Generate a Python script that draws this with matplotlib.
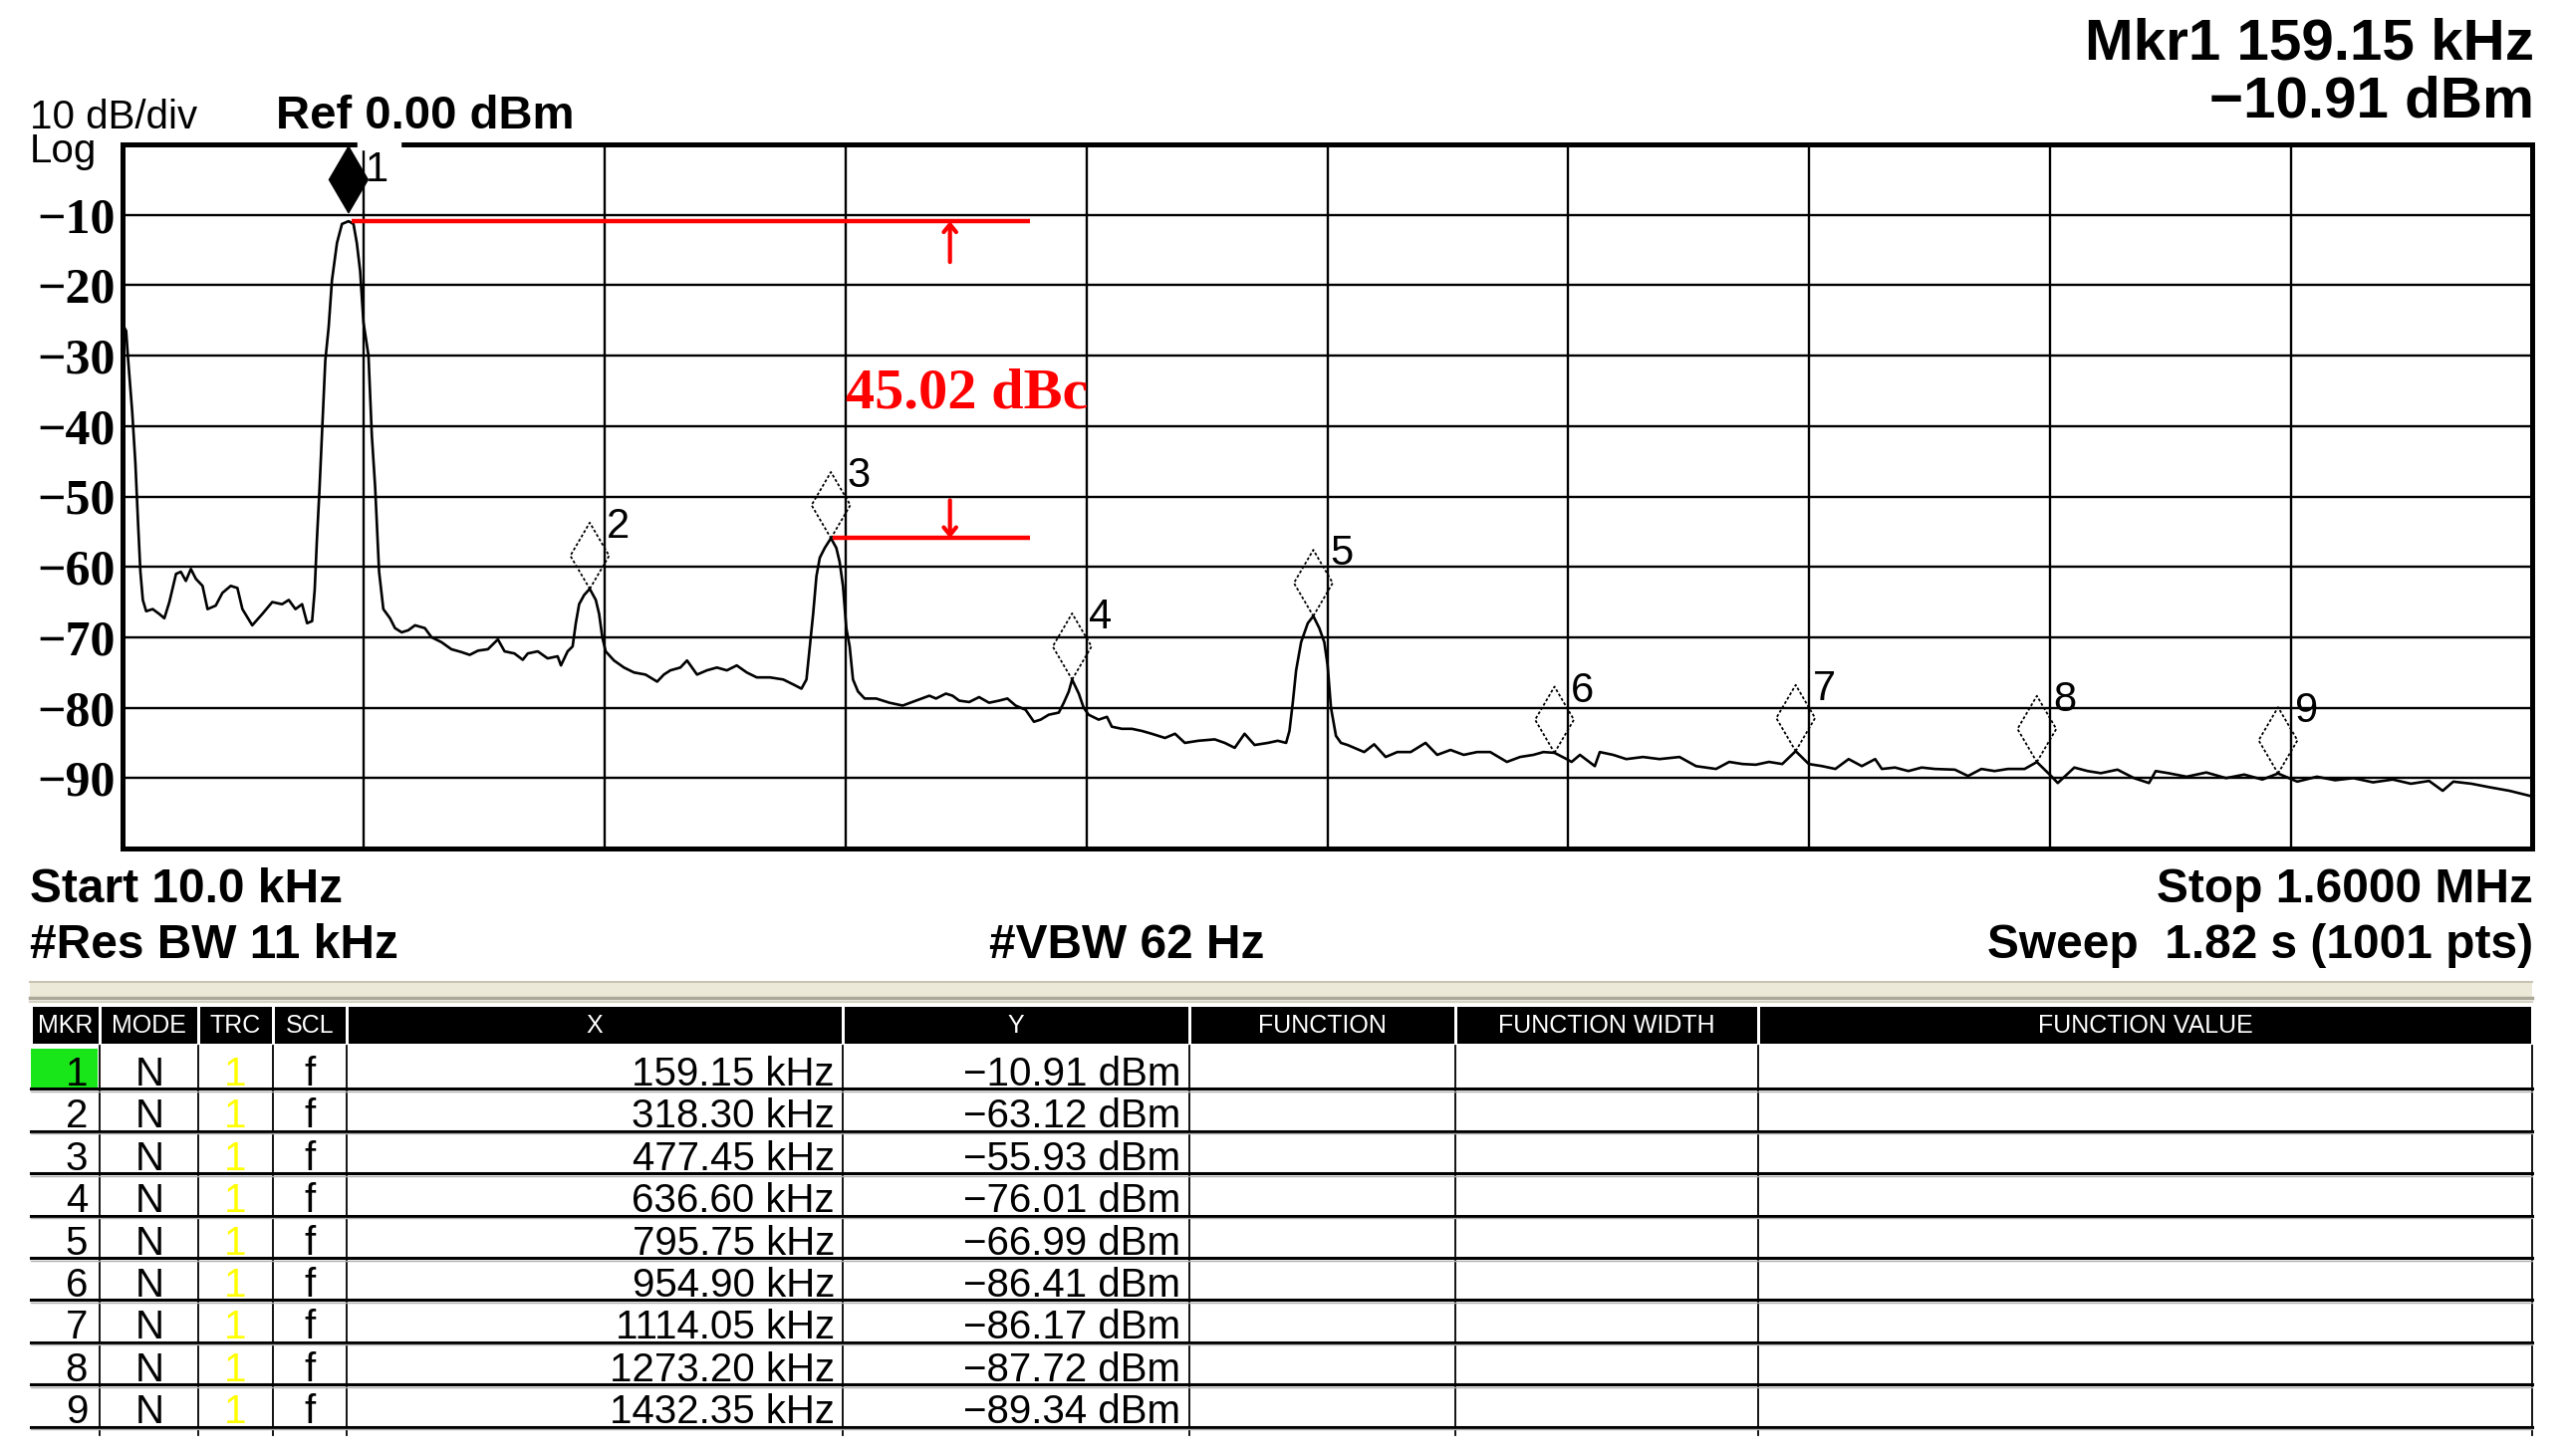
import matplotlib
matplotlib.use("Agg")
import matplotlib.pyplot as plt
from matplotlib.patches import Rectangle

plt.rcParams['font.family'] = ['Liberation Sans', 'DejaVu Sans']

W, H = 2575, 1462

# sweep settings
start_khz = 10.0
stop_khz = 1600.0
ref_dbm = 0.0
db_per_div = 10

# trace (kHz, dBm)
freq_khz = [10, 12.4, 13.5, 16.4, 18.5, 20.3, 21.8, 23.4, 25.6, 29.9, 34.3, 37.6, 40.9, 45.3, 48.5, 51.8,
            55.1, 58.4, 62.8, 66.1, 71.5, 75.9, 81.4, 85.8, 89.1, 95.6, 102.2, 108.8, 115.3, 119.7, 124.1,
            128.5, 131.8, 135.1, 136.8, 138.3, 139.9, 141.6, 143.8, 146.0, 148.2, 151.5, 154.8, 159.15,
            162.4, 164.6, 166.8, 169.0, 172.3, 174.5, 176.7, 179.3, 182.1, 186.5, 189.8, 194.2, 198.6,
            203.0, 209.5, 213.9, 220.5, 227.0, 233.6, 239.1, 244.6, 251.1, 257.7, 262.1, 268.6, 274.1,
            277.4, 284, 290.5, 297.1, 299.3, 303.7, 307, 309.1, 311.3, 314.6, 318.3, 322.3, 324.5, 326.6,
            328.8, 334.3, 340.9, 347.5, 355.1, 362.8, 367.2, 371.5, 378.1, 382.5, 389.1, 395.6, 402.2,
            408.8, 415.3, 421.9, 428.5, 437.2, 446, 452.6, 458.0, 461.3, 463.5, 465.7, 467.9, 470.1,
            473.4, 477.45, 481.0, 483.2, 485.4, 487.6, 489.8, 492, 495.3, 499.7, 507.3, 516.1, 524.8,
            533.6, 542.4, 546.8, 553.3, 557.7, 562.1, 568.7, 575.2, 581.8, 588.4, 593.9, 599.3, 605.9,
            611.4, 615.8, 621.2, 627.8, 631.1, 634.4, 636.6, 641, 644.2, 647.5, 654.1, 659.6, 662.8,
            669.4, 676, 682.6, 689.1, 697.9, 704.5, 711, 719.8, 730.7, 737.3, 743.9, 750.4, 757, 765.8,
            772.3, 777.8, 780, 782.2, 784.4, 787.7, 792.1, 795.75, 799.7, 803, 805.2, 807.4, 810.7, 814,
            818.4, 829.3, 835.9, 843.5, 851.2, 860, 869.8, 877.5, 886.3, 895, 903.8, 912.5, 923.5, 932.2,
            941, 947.6, 954.9, 962.9, 966.2, 971.7, 981.5, 984.8, 993.6, 1002.3, 1013.3, 1024.2, 1037.4,
            1048.3, 1061.5, 1070.2, 1079, 1087.7, 1096.4, 1105.2, 1114.05, 1122.7, 1131.5, 1140.2, 1149,
            1157.7, 1166.5, 1170.9, 1179.6, 1188.4, 1197.2, 1205.9, 1219.1, 1227.8, 1236.6, 1245.3,
            1254.1, 1265.1, 1273.2, 1282.6, 1287, 1297.9, 1306.7, 1315.4, 1326.4, 1337.3, 1347.2, 1351.6,
            1360, 1372, 1385, 1398, 1410, 1422, 1432.35, 1445, 1458, 1470, 1482, 1495, 1508, 1520, 1532,
            1541, 1548, 1560, 1572, 1585, 1600]
level_dbm = [-25.5, -26.5, -30, -38, -45.3, -54, -60.7, -64.7, -66.3, -66, -66.7, -67.3, -65, -61, -60.7, -62,
             -60.3, -61.7, -62.7, -66, -65.5, -63.7, -62.7, -63, -66, -68.3, -66.7, -65, -65.3, -64.7, -66,
             -65.3, -68, -67.7, -63.3, -56, -49.3, -41.3, -30.7, -26, -19.3, -14, -11.3, -10.91,
             -11.3, -14, -18, -25.3, -30, -41.3, -48.7, -60.7, -66, -67.3, -68.7, -69.3, -69,
             -68.3, -68.7, -70, -70.7, -71.7, -72.1, -72.5, -71.9, -71.7, -70.3, -72, -72.3, -73.2,
             -72.3, -72, -73, -72.7, -74, -72, -71.3, -68, -65.3, -64, -63.12, -64.7, -66.7, -70,
             -72, -73.3, -74.3, -75, -75.3, -76.3, -75.3, -74.7, -74.3, -73.3, -75.3, -74.7, -74.3,
             -74.7, -74, -75, -75.7, -75.7, -76, -76.7, -77.3, -76, -71.3, -66.7, -61.3, -58.7,
             -57.3, -55.93, -57.3, -59.3, -62.7, -68.7, -71.3, -76, -77.7, -78.7, -78.7, -79.3, -79.7,
             -79, -78.3, -78.7, -78, -78.3, -79, -79.2, -78.5, -79.3, -79, -78.7, -79.7, -80.3,
             -82, -81.7, -81, -80.7, -79.3, -77.7, -76.01, -78, -80, -81, -81.7, -81.3, -82.7,
             -83, -83, -83.3, -83.7, -84.3, -83.7, -85, -84.7, -84.5, -85, -85.7, -83.7, -85.3, -85,
             -84.7, -85, -83.3, -79.3, -74.7, -70.7, -68, -66.99, -68.7, -70.7, -74, -80, -84, -85,
             -85.3, -86.3, -85.2, -87, -86.3, -86.3, -85, -86.7, -86, -86.7, -86.3, -86.3, -87.7, -87,
             -86.7, -86.3, -86.41, -87.3, -87.7, -86.7, -88.3, -86.3, -86.7, -87.3, -87, -87.3, -87,
             -88.3, -88.7, -87.7, -88, -88.1, -87.7, -88, -86.17, -88, -88.3, -88.7, -87.3,
             -88.3, -87.3, -88.7, -88.5, -89, -88.5, -88.7, -88.8, -89.7, -88.7, -89,
             -88.7, -88.7, -87.72, -89.7, -90.7, -88.5, -89, -89.3, -88.8, -90, -90.7, -89,
             -89.3, -89.8, -89.2, -90, -89.5, -90.2, -89.34, -90.5, -89.8, -90.3, -90, -90.6, -90.2, -90.8, -90.4,
             -91.8, -90.5, -90.8, -91.3, -91.8, -92.6]

# marker table
mkr_num = [1, 2, 3, 4, 5, 6, 7, 8, 9]
mkr_freq = [159.15, 318.30, 477.45, 636.60, 795.75, 954.90, 1114.05, 1273.20, 1432.35]
mkr_level = [-10.91, -63.12, -55.93, -76.01, -66.99, -86.41, -86.17, -87.72, -89.34]
mkr_mode = ["N"] * 9
mkr_trc = ["1"] * 9
mkr_scl = ["f"] * 9
col_names = ["MKR", "MODE", "TRC", "SCL", "X", "Y", "FUNCTION", "FUNCTION WIDTH", "FUNCTION VALUE"]

fig = plt.figure(figsize=(W / 100, H / 100), dpi=100)

# pixel-space layer for the screen annotations and table
bg = fig.add_axes([0, 0, 1, 1])
bg.set_xlim(0, W)
bg.set_ylim(H, 0)
bg.axis('off')

ax = fig.add_axes([123 / W, 1 - 852 / H, (2542 - 123) / W, (852 - 145) / H])
ax.set_xlim(start_khz, stop_khz)
ax.set_ylim(ref_dbm - 10 * db_per_div, ref_dbm)
span = stop_khz - start_khz
ax.set_xticks([start_khz + span * k / 10 for k in range(11)])
yt = [ref_dbm - db_per_div * k for k in range(1, 10)]
ax.set_yticks(yt)
ax.set_yticklabels(["\u2212%d" % abs(v) for v in yt], family='Liberation Serif',
                   fontweight='bold', fontsize=36)
ax.tick_params(length=0, labelbottom=False, pad=5)
ax.grid(True, color='black', lw=1.7)
ax.set_axisbelow(True)
for s in ax.spines.values():
    s.set_linewidth(3.6)

ax.plot(freq_khz, level_dbm, color='black', lw=1.9, zorder=3)

# marker diamonds
hw, hh = 12.8, 9.4
for n, f, v in zip(mkr_num, mkr_freq, mkr_level):
    base = v + 1.2 if n == 1 else v
    xs = [f, f + hw, f, f - hw, f]
    ys = [base, base + hh / 2, base + hh, base + hh / 2, base]
    if n == 1:
        ax.fill(xs, ys, color='black', zorder=4)
        ly = base + 6.0
    else:
        ax.plot(xs, ys, color='black', lw=1.3, ls=(0, (1.6, 1.2)), zorder=4)
        ly = v + 8.8
    ax.text(f + 11, ly, str(n), fontsize=30, ha='left', va='center', zorder=5)

# delta annotation between marker 1 and marker 3
line_end = 609
arrow_x = 556
red_kw = dict(color='red', lw=3.2, solid_capstyle='butt', zorder=5)
ax.plot([mkr_freq[0] + 2, line_end], [mkr_level[0]] * 2, **red_kw)
ax.plot([mkr_freq[2] + 1, line_end], [mkr_level[2]] * 2, **red_kw)
arr = dict(arrowstyle='->,head_length=0.55,head_width=0.45', color='red', lw=3, shrinkA=0, shrinkB=0)
ax.annotate('', xy=(arrow_x, mkr_level[0]), xytext=(arrow_x, mkr_level[0] - 5.8), arrowprops=arr, zorder=5)
ax.annotate('', xy=(arrow_x, mkr_level[2]), xytext=(arrow_x, mkr_level[2] + 5.4), arrowprops=arr, zorder=5)
ax.text(487, -35.4, "%.2f dBc" % (mkr_level[0] - mkr_level[2]), color='red', family='Liberation Serif',
        fontweight='bold', fontsize=42, va='center', ha='left', zorder=5)

# gap in the top frame line
fig.add_artist(Rectangle((359 / W, 1 - 150 / H), 43 / W, 11 / H, transform=fig.transFigure,
                         color='white', zorder=10))

# header texts
bg.text(30, 118, "10 dB/div", fontsize=29, va='center', ha='left')
bg.text(30, 152, "Log", fontsize=29, va='center', ha='left')
bg.text(277, 117, "Ref %.2f dBm" % ref_dbm, fontsize=34, fontweight='bold', va='center', ha='left')
bg.text(2544, 45, "Mkr1 %.2f kHz" % mkr_freq[0], fontsize=42, fontweight='bold', va='center', ha='right')
bg.text(2544, 102, "\u2212%.2f dBm" % abs(mkr_level[0]), fontsize=42, fontweight='bold', va='center', ha='right')

bg.text(30, 893, "Start %.1f kHz" % start_khz, fontsize=34.5, fontweight='bold', va='center', ha='left')
bg.text(30, 949, "#Res BW 11 kHz", fontsize=34.5, fontweight='bold', va='center', ha='left')
bg.text(1269, 949, "#VBW 62 Hz", fontsize=34.5, fontweight='bold', va='center', ha='right')
bg.text(2543, 893, "Stop %.4f MHz" % (stop_khz / 1000), fontsize=34.5, fontweight='bold', va='center', ha='right')
bg.text(2543, 949, "Sweep  1.82 s (1001 pts)", fontsize=34.5, fontweight='bold', va='center', ha='right')

# separator band
bg.add_patch(Rectangle((30, 986), 2512, 18, facecolor='#ECE9D8', edgecolor='none'))
bg.plot([30, 2542], [986, 986], color='#C8C4B4', lw=1.5)
bg.plot([30, 2542], [1002, 1002], color='#ACA899', lw=2.5)
bg.plot([30, 2542], [1006, 1006], color='#D6D2C2', lw=1.5)

# marker table
cols = [31, 100, 199, 274, 348, 846, 1194, 1461, 1765, 2542]
for i, name in enumerate(col_names):
    x0, x1 = cols[i], cols[i + 1]
    bg.add_patch(Rectangle((x0 + 1.5, 1011), x1 - x0 - 3, 37, facecolor='black', edgecolor='none'))
    bg.text((x0 + x1) / 2, 1030, name, color='white', fontsize=18, ha='center', va='center')

row_top, row_h = 1051, 42.4
for c in cols[1:]:
    bg.plot([c, c], [1050, 1441], color='black', lw=1.3)
bg.add_patch(Rectangle((31, row_top + 2), 67, row_h - 3, facecolor='#19E619', edgecolor='none'))
for i in range(len(mkr_num)):
    yl = row_top + (i + 1) * row_h
    bg.plot([31, 2542], [yl, yl], color='black', lw=2.2)
    bg.plot([31, 2542], [yl + 2.5, yl + 2.5], color='#B0B0B0', lw=1)
    yc = row_top + i * row_h + 28
    bg.text(88, yc, str(mkr_num[i]), fontsize=29, ha='right', va='center')
    bg.text(150, yc, mkr_mode[i], fontsize=29, ha='center', va='center')
    bg.text(236, yc, mkr_trc[i], fontsize=29, ha='center', va='center', color='#FFFF00')
    bg.text(311, yc, mkr_scl[i], fontsize=29, ha='center', va='center')
    bg.text(838, yc, "%.2f kHz" % mkr_freq[i], fontsize=29, ha='right', va='center')
    bg.text(1185, yc, "\u2212%.2f dBm" % abs(mkr_level[i]), fontsize=29, ha='right', va='center')

fig.savefig("out.png", dpi=100, facecolor='white')
